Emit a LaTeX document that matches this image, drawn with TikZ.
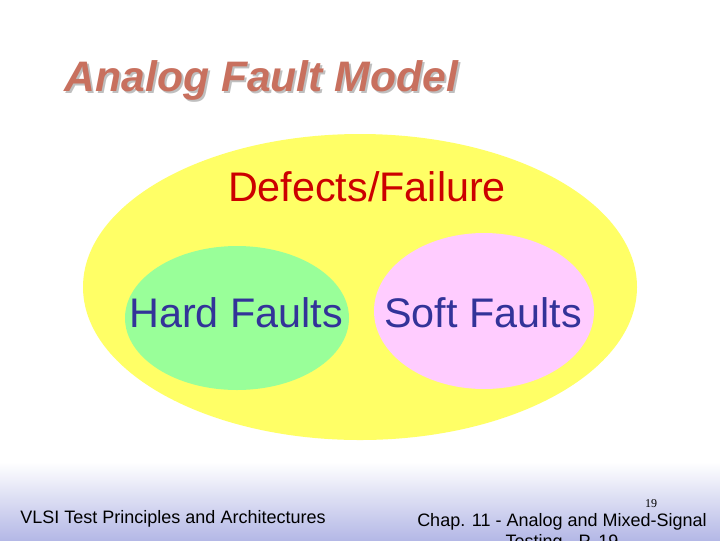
\documentclass[tikz,border=0pt]{standalone}
\usepackage{fontspec}
\setmainfont{Liberation Sans}
\newfontfamily\serifnum{Liberation Serif}
\definecolor{ttl}{HTML}{C8705E}
\definecolor{band}{HTML}{B4B8E6}
\definecolor{ylw}{HTML}{FFFF66}
\definecolor{grn}{HTML}{99FF99}
\definecolor{pnk}{HTML}{FFCCFF}
\definecolor{dred}{HTML}{CC0000}
\definecolor{dblue}{HTML}{333399}
\begin{document}
\begin{tikzpicture}[x=0.75pt,y=-0.75pt,
  lbl/.style={font=\fontsize{31}{36}\selectfont}]
\useasboundingbox (0,0) rectangle (720,540);
\begin{scope}
\clip (0,0) rectangle (720,540);
\fill[white] (0,0) rectangle (720,540);
\shade[top color=white,bottom color=band] (0,462) rectangle (720,540);
\node[anchor=west,text=gray!50,font=\fontsize{32}{38}\selectfont\bfseries\itshape] at (62,82) {Analog Fault Model};
\node[anchor=west,text=ttl,font=\fontsize{32}{38}\selectfont\bfseries\itshape] (title) at (60,80) {Analog Fault Model};
\fill[ylw] (360,287) ellipse [x radius=277, y radius=153];
\fill[grn] (237,318) ellipse [x radius=112, y radius=72];
\fill[pnk] (484,311) ellipse [x radius=110, y radius=78];
\node[lbl,text=dred] (def) at (367,187) {Defects/Failure};
\node[lbl,text=dblue] (hard) at (236,313) {Hard Faults};
\node[lbl,text=dblue] (soft) at (483,313) {Soft Faults};
\node[font=\fontsize{13.5}{16}\selectfont] (left) at (173,519) {VLSI Test Principles and Architectures};
\node[font=\fontsize{13.5}{16}\selectfont,align=center] (right) at (562,532) {Chap. 11 - Analog and Mixed-Signal\\Testing - P. 19};
\node[font=\serifnum\fontsize{9}{10}\selectfont] (num) at (651,504) {19};
\end{scope}
\end{tikzpicture}
\end{document}
